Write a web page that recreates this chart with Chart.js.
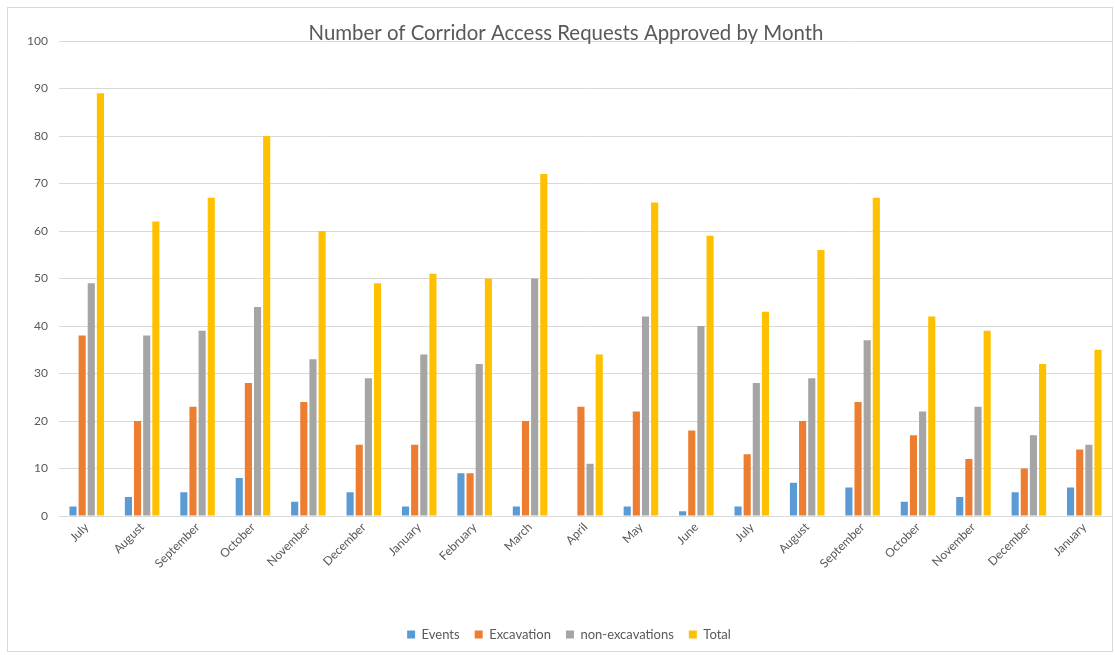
<!DOCTYPE html>
<html>
<head>
<meta charset="utf-8">
<script src="https://cdn.jsdelivr.net/npm/chart.js@4"></script>
<style>
  html,body{margin:0;padding:0;background:#fff;}
  #wrap{position:relative;width:1115px;height:655px;}
  #frame{position:absolute;left:7px;top:7px;width:1106px;height:645px;border:1px solid #d9d9d9;box-sizing:border-box;pointer-events:none;}
  canvas{position:absolute;left:0;top:0;}
</style>
</head>
<body>
<div id="wrap">
  <canvas id="c" width="1115" height="655"></canvas>
  <div id="frame"></div>
</div>
<script>
const categories = ["July","August","September","October","November","December","January","February","March","April","May","June","July","August","September","October","November","December","January"];
const events = [2,4,5,8,3,5,2,9,2,0,2,1,2,7,6,3,4,5,6];
const excavation = [38,20,23,28,24,15,15,9,20,23,22,18,13,20,24,17,12,10,14];
const nonExcavations = [49,38,39,44,33,29,34,32,50,11,42,40,28,29,37,22,23,17,15];
const total = [89,62,67,80,60,49,51,50,72,34,66,59,43,56,67,42,39,32,35];
const yTicks = [0,10,20,30,40,50,60,70,80,90,100];
const chartTitle = "Number of Corridor Access Requests Approved by Month";

const FONT = "Lato, 'Open Sans', sans-serif";
const TXT = "#595959";

const titlePlugin = {
  id: 'customTitle',
  afterDraw(chart) {
    const ctx = chart.ctx;
    ctx.save();
    ctx.font = "20.4px " + FONT;
    ctx.fillStyle = TXT;
    ctx.textAlign = "center";
    ctx.textBaseline = "middle";
    ctx.fillText(chartTitle, 566, 33);
    ctx.restore();
  }
};

new Chart(document.getElementById('c'), {
  type: 'bar',
  data: {
    labels: categories,
    datasets: [
      {label: 'Events', data: events, backgroundColor: '#5B9BD5'},
      {label: 'Excavation', data: excavation, backgroundColor: '#ED7D31'},
      {label: 'non-excavations', data: nonExcavations, backgroundColor: '#A5A5A5'},
      {label: 'Total', data: total, backgroundColor: '#FFC000'}
    ]
  },
  options: {
    responsive: false,
    animation: false,
    devicePixelRatio: 1,
    categoryPercentage: 0.66,
    barPercentage: 0.78,
    layout: {padding: {top: 41, right: 3, left: 26, bottom: 4}},
    plugins: {
      legend: {
        position: 'bottom',
        labels: {
          font: {family: FONT, size: 13},
          color: TXT,
          boxWidth: 8,
          boxHeight: 8,
          padding: 15
        }
      },
      tooltip: {enabled: false},
      title: {display: false}
    },
    scales: {
      x: {
        grid: {display: false, drawTicks: false},
        border: {display: true, color: '#d9d9d9'},
        ticks: {
          font: {family: FONT, size: 12},
          color: TXT,
          maxRotation: 45,
          minRotation: 45,
          autoSkip: false,
          padding: 4
        },
        afterFit(scale) { scale.height = 97; }
      },
      y: {
        min: 0,
        max: 100,
        afterBuildTicks(scale) { scale.ticks = yTicks.map(v => ({value: v})); },
        grid: {color: '#d9d9d9', drawTicks: false},
        border: {display: false},
        ticks: {
          font: {family: FONT, size: 12},
          color: TXT,
          padding: 11
        },
        afterFit(scale) { scale.width = 33; }
      }
    }
  },
  plugins: [titlePlugin]
});
</script>
</body>
</html>
